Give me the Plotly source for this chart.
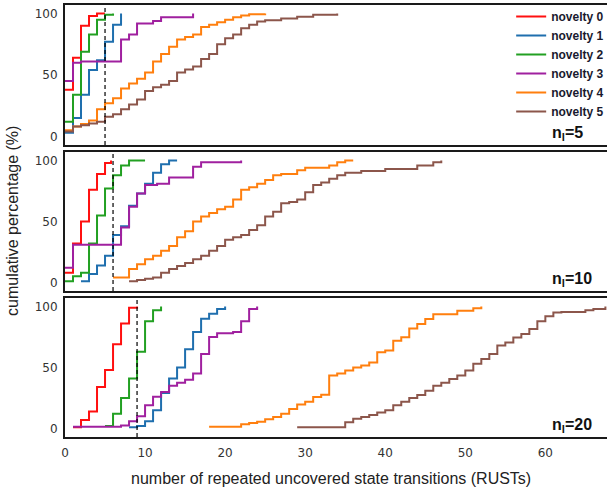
import plotly.graph_objects as go
from plotly.subplots import make_subplots

names = ["novelty 0", "novelty 1", "novelty 2", "novelty 3", "novelty 4", "novelty 5"]
colors = ["#ff1010", "#1f6fae", "#22a022", "#a0209f", "#ff7f0e", "#8c564b"]
panel_labels = ["5", "10", "20"]
dash_x = [5, 6, 9]
x_ticks = [0, 10, 20, 30, 40, 50, 60]
y_ticks = [0, 50, 100]

# ---- n_t = 5 ----
red5_x = [0, 1, 2, 3, 4, 5]
red5_y = [38, 64, 90, 98, 100, 100]
blue5_x = [0, 1, 2, 3, 4, 5, 6, 7]
blue5_y = [3, 15, 34, 54, 62, 77, 91, 100]
green5_x = [0, 1, 2, 3, 4, 5, 6]
green5_y = [12, 34, 69, 83, 95, 99, 100]
purple5_x = [0, 1, 2, 7, 8, 9, 11, 12, 16]
purple5_y = [45, 60, 61, 79, 83, 92, 94, 97, 100]
orange5_x = list(range(0, 24)) + [25]
orange5_y = [5, 8, 10, 13, 22, 27, 31, 39, 43, 47, 52, 61, 67, 73, 79, 81, 83, 89,
             91, 93, 95, 97, 98.5, 99.5, 100]
brown5_x = list(range(0, 26)) + [27, 29, 31, 34]
brown5_y = [4, 8, 9, 10.5, 12, 16, 18, 22, 26, 30, 37, 40, 42, 45, 52, 54.5, 57, 63,
            67, 75, 80, 83, 88, 91, 93.5, 94.5, 96, 97.5, 99, 100]

# ---- n_t = 10 ----
red10_x = [0, 1, 2, 3, 4, 5, 5.75]
red10_y = [8, 32, 50, 76, 89, 98, 100]
blue10_x = [2, 3, 4, 5, 6, 7, 8, 9, 10, 11, 12, 13, 14]
blue10_y = [1, 7, 14, 22, 39, 46, 63, 73, 81, 90, 97, 100, 100]
green10_x = [0, 1, 2, 3, 4, 5, 6, 7, 8, 10]
green10_y = [1, 5, 8, 32, 55, 77, 88, 96, 100, 100]
purple10_x = [0, 1, 7, 8, 9, 10, 11.5, 13, 16, 17, 22]
purple10_y = [12, 31, 45, 62, 73, 80, 81, 86, 95, 98.5, 100]
orange10_x = [6, 8] + list(range(9, 28)) + [29, 30, 33, 34, 35, 36]
orange10_y = [4, 11, 15, 19, 22, 26, 30, 37, 42, 50, 54, 57, 60, 62, 68, 76, 78, 81,
              84, 88, 89, 92, 94, 96, 98.5, 100, 100]
brown10_x = list(range(8, 36)) + [37, 40, 44, 46, 47]
brown10_y = [1, 2, 3, 4, 8, 11, 13.5, 16, 19, 22, 26, 30, 35, 37, 39, 43, 47, 54, 58,
             65, 66, 68, 74, 80, 82, 85, 88, 90, 91.5, 93, 96, 98.5, 100]

# ---- n_t = 20 ----
red20_x = [1, 2, 3, 4, 5, 6, 7, 8, 9]
red20_y = [1, 7, 14, 34, 48, 69, 86, 99, 100]
blue20_x = [8, 9, 10, 11, 12, 13, 14, 15, 16, 17, 18, 19, 20]
blue20_y = [1, 2, 6, 15, 29, 41, 50, 65, 79, 90, 94, 98, 100]
green20_x = [5, 6, 7, 8, 9, 10, 11, 12]
green20_y = [2, 12, 25, 41, 63, 88, 97, 100]
purple20_x = [1, 7, 8, 9, 10, 11, 12, 13, 14, 15, 16, 17, 18, 19, 21, 22, 23, 24]
purple20_y = [1.5, 2.5, 6, 10, 19, 26, 30, 35, 37.5, 40, 45, 61, 75, 78, 79, 88, 98, 100]
orange20_x = [18] + list(range(22, 47)) + [49, 51, 52]
orange20_y = [1.5, 3.5, 4.5, 5.5, 7.5, 9.5, 12, 16, 19.6, 22, 25.8, 27.7, 43.5, 45,
              47.5, 50, 51.6, 54, 62.5, 64, 72, 74.7, 82, 85.6, 89.7, 93.7, 96.5, 98.5, 100]
brown20_x = [29] + list(range(35, 63)) + [65, 66, 67.5]
brown20_y = [1, 5, 8, 9.5, 11, 13, 15, 19, 22, 25, 27.5, 31, 35, 37.5, 40.5, 43.5, 47.5,
             53, 57, 61, 68, 70.5, 74.5, 77.5, 81.5, 88, 92, 95, 95.5, 97, 98, 100]

panels = [
    [(red5_x, red5_y), (blue5_x, blue5_y), (green5_x, green5_y),
     (purple5_x, purple5_y), (orange5_x, orange5_y), (brown5_x, brown5_y)],
    [(red10_x, red10_y), (blue10_x, blue10_y), (green10_x, green10_y),
     (purple10_x, purple10_y), (orange10_x, orange10_y), (brown10_x, brown10_y)],
    [(red20_x, red20_y), (blue20_x, blue20_y), (green20_x, green20_y),
     (purple20_x, purple20_y), (orange20_x, orange20_y), (brown20_x, brown20_y)],
]

fig = make_subplots(rows=3, cols=1, shared_xaxes=True, vertical_spacing=0.02)

for r, series in enumerate(panels, start=1):
    for i, (xs, ys) in enumerate(series):
        fig.add_trace(go.Scatter(
            x=xs, y=ys, mode="lines", line=dict(color=colors[i], width=2, shape="hv"),
            name=names[i], showlegend=(r == 1), legendgroup=names[i],
        ), row=r, col=1)
    fig.add_vline(x=dash_x[r - 1], row=r, col=1,
                  line=dict(color="black", width=1.2, dash="4px,3px"))

domains = [[0.676, 1.0], [0.338, 0.6597], [0.0, 0.3218]]
tick_font = dict(family="DejaVu Sans", size=12, color="#333333")
for r in range(1, 4):
    fig.update_yaxes(domain=domains[r - 1], range=[-7, 107], tickvals=y_ticks,
                     showline=True, linewidth=2, linecolor="#1a1a1a", mirror=False,
                     showgrid=False, zeroline=False, ticks="outside", ticklen=3,
                     tickcolor="rgba(0,0,0,0)", tickfont=tick_font, automargin=False,
                     row=r, col=1)
    fig.update_xaxes(range=[0, 67.7], tickvals=x_ticks, showline=True, linewidth=2,
                     linecolor="#1a1a1a", mirror=True, showgrid=False, zeroline=False,
                     ticks="outside", ticklen=4, tickcolor="rgba(0,0,0,0)",
                     tickfont=tick_font, showticklabels=(r == 3), automargin=False,
                     row=r, col=1)

annotations = []
yrefs = ["y domain", "y2 domain", "y3 domain"]
for r in range(3):
    annotations.append(dict(
        text="<b>n<sub>l</sub>=" + panel_labels[r] + "</b>", xref="paper", x=0.895,
        xanchor="left", yref=yrefs[r], y=0.085, yanchor="middle", showarrow=False,
        font=dict(family="Liberation Sans", size=16, color="#111111")))
annotations.append(dict(
    text="cumulative percentage (%)", xref="paper", yref="paper", x=-0.098, y=0.5,
    xanchor="center", yanchor="middle", textangle=-90, showarrow=False,
    font=dict(family="Liberation Sans", size=16, color="#222222")))
annotations.append(dict(
    text="number of repeated uncovered state transitions (RUSTs)", xref="paper",
    yref="paper", x=0.49, y=-0.097, xanchor="center", yanchor="middle",
    showarrow=False, font=dict(family="Liberation Sans", size=16, color="#222222")))

fig.update_layout(
    width=607, height=493, margin=dict(l=65, r=0, t=5, b=56, autoexpand=False),
    paper_bgcolor="white", plot_bgcolor="white",
    annotations=annotations,
    legend=dict(x=1.004, xanchor="right", y=1.007, yanchor="top",
                bgcolor="rgba(0,0,0,0)", itemwidth=30,
                font=dict(family="Liberation Sans", size=12, color="#1a1a2e",
                          weight="bold"),
                tracegroupgap=0),
)

fig.write_html(
    "out.html",
    config={"displayModeBar": False},
    post_script="document.body.style.margin='0';document.body.style.overflow='hidden';",
)
